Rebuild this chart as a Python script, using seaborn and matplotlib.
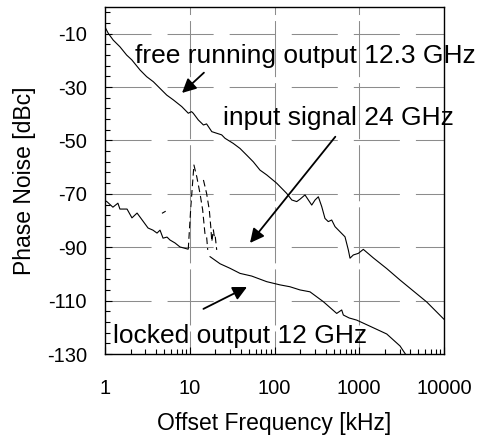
import numpy as np
import pandas as pd
import matplotlib
matplotlib.use("Agg")
import matplotlib.pyplot as plt
from matplotlib.ticker import FixedLocator, LogLocator, NullFormatter
import seaborn as sns

# valeurs (fréquence en kHz, bruit de phase en dBc)
free_freq = [1.0, 1.03, 1.09, 1.25, 1.50, 1.80, 2.07, 2.59, 3.10, 3.72, 4.46, 5.35, 6.40, 8.04,
             9.61, 10.5, 11.0, 12.6, 14.5, 15.8, 18.2, 20.8, 23.8, 26.1, 32.6, 39.2, 47.0, 56.2,
             67.4, 80.9, 106, 139, 160, 183, 200, 229, 251, 275, 301, 329, 361, 394, 431, 473,
             518, 593, 679, 743, 778, 851, 975, 1117, 1466, 2110, 3030, 4350, 6250, 8970, 10000]
free_db = [-7.5, -8.3, -9.8, -12.4, -14.9, -18.0, -19.8, -23.6, -26.1, -28.0, -30.5, -33.0, -34.8,
           -37.3, -39.8, -39.2, -39.8, -42.3, -44.2, -43.8, -46.7, -47.3, -47.9, -49.2, -51.1,
           -53.0, -55.5, -58.0, -61.1, -62.9, -66.0, -69.8, -72.3, -72.9, -72.0, -70.4, -72.3,
           -74.2, -72.3, -71.1, -74.8, -79.2, -80.4, -79.8, -82.3, -84.2, -86.1, -91.0, -94.1,
           -92.9, -92.3, -90.8, -94.0, -98.0, -102.3, -106.4, -110.5, -115.5, -117.0]

locked_low_freq = [1.0, 1.06, 1.24, 1.42, 1.50, 1.82, 2.08, 2.39, 2.59, 3.22, 3.68, 4.11, 4.46,
                   4.84, 5.39, 5.85, 6.7, 7.67, 9.5]
locked_low_db = [-72.5, -73.0, -75.0, -73.5, -75.7, -75.7, -79.0, -77.2, -78.7, -82.8, -83.6,
                 -84.7, -83.6, -86.6, -86.2, -87.3, -88.4, -89.9, -90.7]

locked_high_freq = [17.3, 22.8, 29.9, 39.2, 53.8, 80.9, 116, 152, 200, 262, 377, 542, 621, 649,
                    760, 933, 1340, 2110, 3030, 3500, 5000]
locked_high_db = [-93.5, -96.2, -97.9, -99.8, -100.8, -102.9, -104.1, -104.8, -106.0, -106.7,
                  -110.4, -114.8, -113.5, -115.4, -116.5, -117.3, -119.6, -122.5, -127.0, -130.0,
                  -135.0]

# pics en pointillés autour de 10-20 kHz
spur_a_freq = [9.6, 10.3, 11.2, 12.1, 13.2, 14.2, 15.1, 15.8, 16.3]
spur_a_db = [-90.8, -74.8, -59.2, -63.6, -69.8, -76.0, -84.8, -86.0, -91.0]
spur_b_freq = [14.5, 15.8, 17.0, 17.7, 18.2, 19.0, 19.5, 19.9, 20.8]
spur_b_db = [-64.8, -69.8, -76.0, -82.3, -87.9, -83.5, -86.0, -85.4, -91.0]
spur_c_freq = [4.7, 5.2]
spur_c_db = [-77.3, -76.5]

sns.set_theme(style="white")
plt.rcParams["font.family"] = ["Liberation Sans", "DejaVu Sans"]
plt.rcParams["text.color"] = "black"
plt.rcParams["axes.labelcolor"] = "black"
plt.rcParams["axes.unicode_minus"] = False

fig = plt.figure(figsize=(4.82, 4.43), dpi=100)
ax = fig.add_axes([105 / 482, 1 - 354 / 443, 339 / 482, 347 / 443])

solides = [(free_freq, free_db), (locked_low_freq, locked_low_db), (locked_high_freq, locked_high_db)]
for fx, fy in solides:
    df = pd.DataFrame({"f": fx, "db": fy})
    sns.lineplot(data=df, x="f", y="db", ax=ax, color="black", lw=0.8, estimator=None, sort=False)

pointilles = [(spur_a_freq, spur_a_db), (spur_b_freq, spur_b_db), (spur_c_freq, spur_c_db)]
for fx, fy in pointilles:
    df = pd.DataFrame({"f": fx, "db": fy})
    sns.lineplot(data=df, x="f", y="db", ax=ax, color="black", lw=0.8, estimator=None, sort=False,
                 linestyle=(0, (6, 3.5)))

ax.set_xscale("log")
ax.set_xlim(1, 10000)
ax.set_ylim(-130, 0)

ax.set_xticks([1, 10, 100, 1000, 10000])
ax.set_xticklabels(["1", "10", "100", "1000", "10000"])
ax.xaxis.set_minor_locator(LogLocator(base=10, subs=np.arange(2, 10)))
ax.xaxis.set_minor_formatter(NullFormatter())
ax.set_yticks(np.arange(-130, 0, 20))
ax.yaxis.set_minor_locator(FixedLocator(np.arange(-130, 0, 4)))

ax.tick_params(which="both", direction="in", colors="black", width=0.8, labelsize=14.5,
               bottom=True, left=True, top=False, right=False)
ax.tick_params(which="major", length=5)
ax.tick_params(which="minor", length=3.5)
ax.tick_params(axis="x", which="major", pad=18)
ax.tick_params(axis="y", which="major", pad=13)

# grille en tirets
ax.grid(False)
for gx in [10, 100, 1000]:
    ax.axvline(gx, color="#8c8c8c", lw=0.75, linestyle=(31.7, (53.8, 5.8)), zorder=0)
for gy in np.arange(-110, 0, 20):
    ax.axhline(gy, color="#8c8c8c", lw=0.75, linestyle=(0, (44.2, 15.4)), zorder=0)

for s in ax.spines.values():
    s.set_color("black")
    s.set_linewidth(1.0)

ax.set_xlabel("Offset Frequency [kHz]", fontsize=16.5, labelpad=10)
ax.set_ylabel("Phase Noise [dBc]", fontsize=16.5, labelpad=8)

# annotations
fl = dict(arrowstyle="-|>,head_length=0.6,head_width=0.3", color="black", lw=1.3,
          shrinkA=0, shrinkB=0, mutation_scale=14)
ax.text(2.26, -21, "free running output 12.3 GHz", fontsize=19, va="baseline", clip_on=False)
ax.annotate("", xy=(8.1, -32.2), xytext=(14.7, -24.6), arrowprops=fl)
ax.text(24.7, -44.2, "input signal 24 GHz", fontsize=19, va="baseline", clip_on=False)
ax.annotate("", xy=(51.4, -88.4), xytext=(522, -48.6), arrowprops=fl)
ax.text(1.24, -125.9, "locked output 12 GHz", fontsize=19, va="baseline", clip_on=False)
ax.annotate("", xy=(47.4, -104.9), xytext=(14.5, -113.1), arrowprops=fl)

fig.savefig("out.png", dpi=100)
